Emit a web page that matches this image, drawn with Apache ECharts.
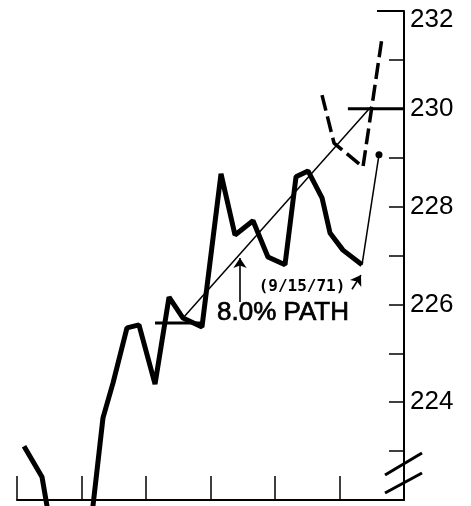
<!DOCTYPE html>
<html>
<head>
<meta charset="utf-8">
<script src="https://cdn.jsdelivr.net/npm/echarts@6/dist/echarts.min.js"></script>
<style>
html,body{margin:0;padding:0;background:#fff;}
#c{width:471px;height:506px;}
</style>
</head>
<body>
<div id="c"></div>
<script>
// x values are in months from the first tick; y values are index levels
const earlyX = [0.109, 0.388, 0.465, 0.481];
const earlyY = [223.10, 222.47, 221.88, 221.69];
const mainX = [1.153, 1.333, 1.488, 1.705, 1.891, 2.140, 2.357, 2.574, 2.868, 3.163, 3.380, 3.659, 3.891, 4.155, 4.326, 4.512, 4.729, 4.853, 5.054, 5.349];
const mainY = [221.59, 223.68, 224.39, 225.52, 225.58, 224.37, 226.15, 225.72, 225.54, 228.67, 227.42, 227.71, 226.97, 226.81, 228.61, 228.73, 228.18, 227.46, 227.11, 226.81];
const pathX = [2.574, 5.488];
const pathY = [225.72, 230.04];
const baseX = [2.14, 2.90];
const baseY = [225.62, 225.62];
const targetX = [5.13, 6];
const targetY = [230, 230];
const dashX = [4.729, 4.915, 5.364, 5.659];
const dashY = [230.28, 229.30, 228.81, 231.45];
const linkX = [5.349, 5.612];
const linkY = [226.81, 229.06];
const topCapX = [5.581, 6];
const topCapY = [232, 232];
const yTickLabels = [224, 226, 228, 230, 232];
const pathLabel = '8.0% PATH';
const dateLabel = '(9/15/71)';
const pathLabelPos = [4.124, 225.82];
const dateLabelPos = [4.419, 226.36];

const pairs = (xs, ys) => xs.map((x, i) => [x, ys[i]]);
const BLACK = '#000';

const chart = echarts.init(document.getElementById('c'), null, {renderer: 'canvas'});
chart.setOption({
  animation: false,
  backgroundColor: '#fff',
  grid: {left: 17, right: 67, top: 11, bottom: 6, containLabel: false},
  xAxis: {
    type: 'value', min: 0, max: 6, interval: 1,
    axisLine: {show: true, onZero: false, lineStyle: {color: BLACK, width: 2}},
    axisTick: {show: true, inside: true, length: 24, lineStyle: {color: BLACK, width: 1.5}},
    axisLabel: {show: false},
    splitLine: {show: false}
  },
  yAxis: {
    type: 'value', position: 'right', min: 222, max: 232, interval: 1,
    axisLine: {show: true, onZero: false, lineStyle: {color: BLACK, width: 2}},
    axisTick: {show: true, inside: true, length: 15, lineStyle: {color: BLACK, width: 1.5}},
    splitLine: {show: false},
    axisLabel: {
      show: true, margin: 6, color: BLACK, fontSize: 26, fontFamily: 'Liberation Sans',
      formatter: v => {
        if (yTickLabels.indexOf(v) < 0) return '';
        return v === 232 ? '{t|' + v + '}' : String(v);
      },
      rich: {t: {fontSize: 26, fontFamily: 'Liberation Sans', color: BLACK, padding: [18, 0, 0, 0]}}
    }
  },
  series: [
    {type: 'line', data: pairs(earlyX, earlyY), symbol: 'none', clip: false,
     lineStyle: {color: BLACK, width: 5}},
    {type: 'line', data: pairs(mainX, mainY), symbol: 'none', clip: false,
     lineStyle: {color: BLACK, width: 5}},
    {type: 'line', data: pairs(baseX, baseY), symbol: 'none',
     lineStyle: {color: BLACK, width: 3}},
    {type: 'line', data: pairs(pathX, pathY), symbol: 'none',
     lineStyle: {color: BLACK, width: 1.5},
     markLine: {
       silent: true, symbol: ['none', 'arrow'], symbolSize: 10,
       label: {show: false},
       lineStyle: {color: BLACK, width: 1.6, type: 'solid'},
       data: [
         [{coord: [3.457, 226.05]}, {coord: [3.457, 226.95]}],
         [{coord: [5.194, 226.31]}, {coord: [5.333, 226.60]}]
       ]
     }},
    {type: 'line', data: pairs(targetX, targetY), symbol: 'none',
     lineStyle: {color: BLACK, width: 3}},
    {type: 'line', data: pairs(topCapX, topCapY), symbol: 'none',
     lineStyle: {color: BLACK, width: 2}},
    {type: 'line', data: pairs(dashX, dashY), symbol: 'none',
     lineStyle: {color: BLACK, width: 3.5, type: [16, 6]}},
    {type: 'line', data: pairs(linkX, linkY), symbol: 'none',
     lineStyle: {color: BLACK, width: 1.5}},
    {type: 'scatter', data: [[linkX[1], linkY[1]]], symbol: 'circle', symbolSize: 7,
     itemStyle: {color: BLACK, opacity: 1}},
    {type: 'scatter', symbolSize: 0, itemStyle: {color: BLACK, opacity: 1}, silent: true,
     label: {show: true, position: 'inside', color: BLACK, opacity: 1},
     data: [
       {value: pathLabelPos, name: pathLabel,
        label: {formatter: pathLabel, fontSize: 26,
                fontFamily: 'Liberation Sans', textBorderColor: BLACK, textBorderWidth: 0.7}},
       {value: dateLabelPos, name: dateLabel,
        label: {formatter: dateLabel, fontSize: 16,
                fontWeight: 'bold', fontFamily: 'DejaVu Sans Mono'}}
     ]}
  ],
  graphic: [
    {type: 'line', shape: {x1: 385, y1: 475, x2: 422, y2: 453}, style: {stroke: BLACK, lineWidth: 3}},
    {type: 'line', shape: {x1: 385, y1: 493, x2: 422, y2: 473}, style: {stroke: BLACK, lineWidth: 3}}
  ]
});
</script>
</body>
</html>
